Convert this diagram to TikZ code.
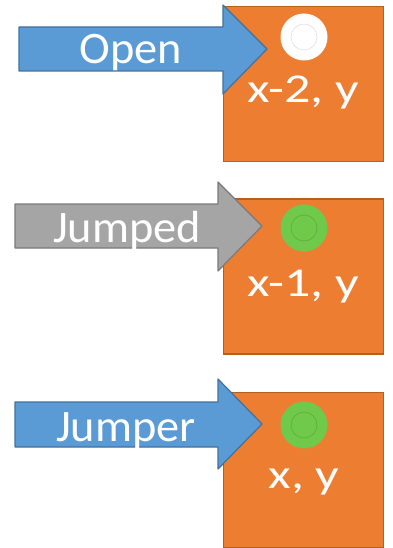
\documentclass[tikz,border=0pt]{standalone}
\usepackage{fontspec}
\setmainfont{Carlito}
\definecolor{sqorange}{HTML}{ED7D31}
\definecolor{sqedge}{HTML}{B0601F}
\definecolor{arblue}{HTML}{5B9BD5}
\definecolor{arblueedge}{HTML}{41719C}
\definecolor{argray}{HTML}{A5A5A5}
\definecolor{argrayedge}{HTML}{7A7A7A}
\definecolor{peggreen}{HTML}{6FC94B}
\definecolor{peggreenedge}{HTML}{5BAE3A}

\begin{document}
\begin{tikzpicture}[x=1pt,y=-1pt,
  square/.style={fill=sqorange,draw=sqedge,line width=1.5pt,minimum width=160pt,minimum height=155pt,inner sep=0pt},
  peg/.style={circle,minimum size=47pt,inner sep=0pt},
  hole/.style={circle,minimum size=26pt,inner sep=0pt,line width=0.6pt},
  lbl/.style={text=white,font=\fontsize{41}{41}\selectfont,inner sep=0pt,anchor=base,xscale=1.27},
  arlbl/.style={text=white,font=\fontsize{45}{45}\selectfont,inner sep=0pt,anchor=base,xscale=1.03}]
\useasboundingbox (0,0) rectangle (392,548);

  % squares
  \node (sq1) at (303.5,84) [square] {};
  \node (sq2) at (303.5,276.5) [square] {};
  \node (sq3) at (303.5,470) [square] {};

  % pegs
  \node (p1) at (304,37) [peg,fill=white] {};
  \node (h1) at (p1) [hole,draw=black!12] {};
  \node (p2) at (304,228) [peg,fill=peggreen] {};
  \node (h2) at (p2) [hole,draw=peggreenedge] {};
  \node (p3) at (304,425) [peg,fill=peggreen] {};
  \node (h3) at (p3) [hole,draw=peggreenedge] {};

  \node (t1) at (303,103) [lbl] {x-2, y};
  \node (t2) at (303,296) [lbl] {x-1, y};
  \node (t3) at (304,488) [lbl] {x, y};

  % arrows
  \draw [fill=arblue,draw=arblueedge,line width=1.2pt,line join=round]
    (19,27) -- (223,27) -- (223,5) -- (267,49) -- (223,94) -- (223,71) -- (19,71) -- cycle;
  \draw [fill=argray,draw=argrayedge,line width=1.2pt,line join=round]
    (15,204) -- (218,204) -- (218,182) -- (262,226) -- (218,271) -- (218,248) -- (15,248) -- cycle;
  \draw [fill=arblue,draw=arblueedge,line width=1.2pt,line join=round]
    (15,402) -- (218,402) -- (218,379) -- (262,424) -- (218,469) -- (218,447) -- (15,447) -- cycle;

  \node (a1) at (131,64) [arlbl] {Open};
  \node (a2) at (127,242) [arlbl] {Jumped};
  \node (a3) at (126,441) [arlbl] {Jumper};

\end{tikzpicture}
\end{document}
